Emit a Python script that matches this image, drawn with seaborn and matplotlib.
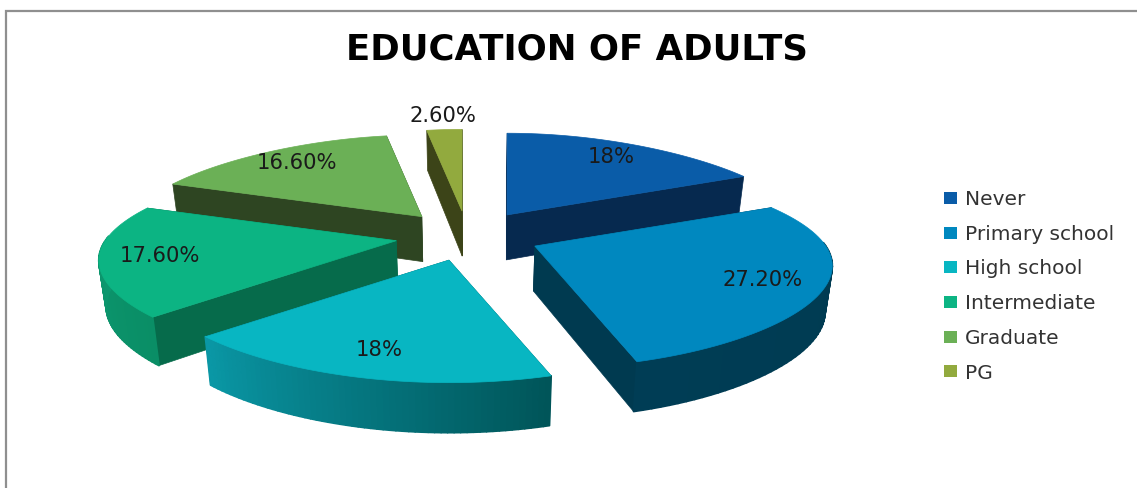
import numpy as np
import matplotlib
matplotlib.use("Agg")
import matplotlib.pyplot as plt
from matplotlib.patches import Patch, Polygon
from matplotlib.collections import PolyCollection
from matplotlib.colors import to_rgb
import seaborn as sns

# Survey shares, in percent
categories = ["Never", "Primary school", "High school", "Intermediate", "Graduate", "PG"]
shares = [18.0, 27.2, 18.0, 17.6, 16.6, 2.6]
share_labels = ["18%", "27.20%", "18%", "17.60%", "16.60%", "2.60%"]

# Colours of the top faces, the flat side walls and the two ends of the rim
top_colors = ["#0a5ca8", "#0088bf", "#08b6c2", "#0cb483", "#6bb056", "#92aa3e"]
wall_colors = ["#06294f", "#003a50", "#005559", "#066b4b", "#2e4522", "#3c4418"]
rim_start = ["#06294f", "#003a50", "#005559", "#0a8e66", "#2e4522", "#3c4418"]
rim_end = ["#06294f", "#003d55", "#0a97a5", "#0d9d74", "#2e4522", "#3c4418"]

# Back slices are painted first so the front ones overlap them
paint_order = [5, 4, 0, 3, 1, 2]

sns.set_theme(style="white")
palette = sns.color_palette(top_colors)

WIDTH, HEIGHT = 1137, 488
CX, CY = 468.0, 236.0      # pie centre before the slices are pulled apart
PULL_X, PULL_Y = 73.0, 25.0


def project(r, theta):
    """Map radius and clockwise angle on the disc to an offset in the tilted view."""
    px = r * np.sin(theta)
    py = r * np.cos(theta)
    dx = px * (291.0 - 65.0 * py - 10.0 * py ** 2)
    dy = -py * 98.0 / (1.0 + 0.2 * py)
    return dx, dy


def thickness(r, theta):
    return 45.0 - 5.0 * r * np.cos(theta)


def drop(x, y, r, theta):
    """Lower edge of the slab under a point of the top face."""
    return CX + (x - CX) * 0.98, y + thickness(r, theta)


fig = plt.figure(figsize=(WIDTH / 100, HEIGHT / 100), dpi=100, facecolor="white")
ax = fig.add_axes([0, 0, 1, 1])
ax.set_xlim(0, WIDTH)
ax.set_ylim(HEIGHT, 0)
ax.axis("off")

# Chart frame along the top and left
ax.plot([6, 6, WIDTH], [HEIGHT, 11, 11], color="#8f8f8f", lw=1.6, solid_joinstyle="miter")

edges = np.concatenate([[0.0], np.cumsum(shares)]) / np.sum(shares) * 2 * np.pi

for i in paint_order:
    start, end = edges[i], edges[i + 1]
    mid = (start + end) / 2
    tip_x = CX + PULL_X * np.sin(mid)
    tip_y = CY - PULL_Y * np.cos(mid)

    angles = np.linspace(start, end, 60)
    dx, dy = project(1.0, angles)
    arc_x, arc_y = tip_x + dx, tip_y + dy
    low_x, low_y = drop(arc_x, arc_y, 1.0, angles)
    tip_low_x, tip_low_y = drop(tip_x, tip_y, 0.0, 0.0)

    # Flat walls running from the point to each end of the arc
    for k in (0, -1):
        wall = [(tip_x, tip_y), (arc_x[k], arc_y[k]), (low_x[k], low_y[k]), (tip_low_x, tip_low_y)]
        ax.add_patch(Polygon(wall, closed=True, fc=wall_colors[i], ec=wall_colors[i], lw=0.5))

    # Curved rim, shaded strip by strip; only the part facing the viewer is drawn
    c0, c1 = np.array(to_rgb(rim_start[i])), np.array(to_rgb(rim_end[i]))
    strips, shades = [], []
    for j in range(len(angles) - 1):
        if np.cos(angles[j]) < 0.05 and np.cos(angles[j + 1]) < 0.05:
            strips.append([(arc_x[j], arc_y[j]), (arc_x[j + 1], arc_y[j + 1]),
                           (low_x[j + 1], low_y[j + 1]), (low_x[j], low_y[j])])
            shades.append(c0 + (c1 - c0) * j / (len(angles) - 2))
    if strips:
        ax.add_collection(PolyCollection(strips, facecolors=shades, edgecolors=shades, linewidths=1.3))

    # Top face
    top = np.column_stack([np.r_[tip_x, arc_x], np.r_[tip_y, arc_y]])
    ax.add_patch(Polygon(top, closed=True, fc=palette[i], ec=palette[i], lw=0.5))

    # Share label: inside the slice, or just beyond the rim for the narrow one
    r_label = 1.2 if shares[i] < 5 else 0.8
    lx, ly = project(r_label, mid)
    ax.text(tip_x + lx, tip_y + ly, share_labels[i], ha="center", va="center",
            fontsize=15.2, color="#1a1a1a", family="DejaVu Sans", zorder=5)

ax.text(577, 49, "EDUCATION OF ADULTS", ha="center", va="center", fontsize=25.6,
        fontweight="bold", color="black", family="DejaVu Sans")

handles = [Patch(facecolor=c, edgecolor="none") for c in palette]
ax.legend(handles, categories, loc="upper left", bbox_to_anchor=(944 / WIDTH, 1 - 190 / HEIGHT),
          bbox_transform=fig.transFigure, frameon=False, handlelength=0.65,
          handleheight=0.55, handletextpad=0.4, labelspacing=0.78, borderpad=0, borderaxespad=0,
          labelcolor="#333333", prop={"family": "DejaVu Sans", "size": 14.5})

fig.savefig("out.png", dpi=100, facecolor="white")
